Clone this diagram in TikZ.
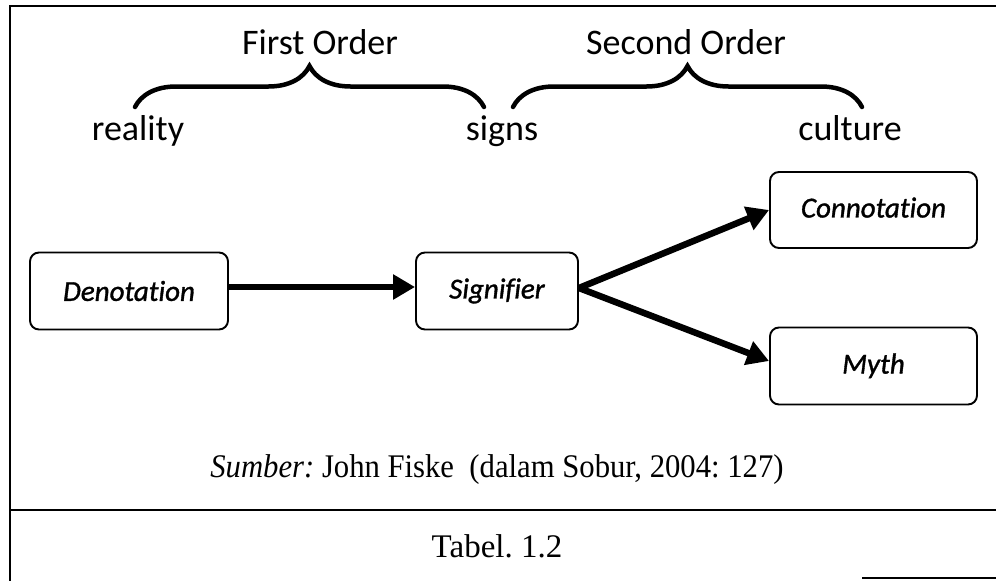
\documentclass[tikz,border=0pt]{standalone}
\usepackage{fontspec}
\setmainfont{Liberation Serif}
\setsansfont{Carlito}[Ligatures={NoCommon}]
\newfontfamily\boxfont{Carlito}[Ligatures={NoCommon},FakeBold=1.2]
\usetikzlibrary{arrows.meta,decorations.pathreplacing}
\frenchspacing
\begin{document}
\frenchspacing
\begin{tikzpicture}[x=1pt,y=-1pt,
  box/.style={draw,line width=1.9pt,rounded corners=9pt,inner sep=0pt,
    font=\boxfont\itshape\fontsize{29}{29}\selectfont},
  hdr/.style={font=\sffamily\fontsize{36}{36}\selectfont,anchor=base,inner sep=0pt},
  bigarrow/.style={line width=6.5pt,-{Triangle[length=22pt,width=24pt]}},
  bracestyle/.style={line width=4.5pt,line cap=round,decorate,decoration={brace,amplitude=41pt}},
  framestyle/.style={line width=2.4pt},
  serif/.style={font=\fontsize{33}{33}\selectfont,anchor=base,inner sep=0pt}]
\useasboundingbox (0,0) rectangle (996,581);
% frame
\draw[framestyle] (10,581) -- (10,6) -- (996,6);
\draw[framestyle] (10,510) -- (996,510);
\draw[framestyle] (862,578) -- (996,578);
% headers
\node[hdr] (fo) at (320,54) {First Order};
\node[hdr] (so) at (686,54) {Second Order};
\node[hdr] (re) at (138,140) {reality};
\node[hdr] (si) at (502,140) {signs};
\node[hdr] (cu) at (850,140) {culture};
\coordinate (b1a) at (135,107);
\coordinate (b1b) at (484,107);
\coordinate (b2a) at (513,107);
\coordinate (b2b) at (862,107);
\draw[bracestyle] (b1a) -- (b1b);
\draw[bracestyle] (b2a) -- (b2b);
% boxes
\node[box,minimum width=198pt,minimum height=77pt] (den) at (129,291) {Denotation};
\node[box,minimum width=162pt,minimum height=77pt] (sig) at (497,291) {\raisebox{2pt}{Signifier}};
\node[box,minimum width=207pt,minimum height=76pt] (con) at (873.5,210) {\raisebox{5pt}{Connotation}};
\node[box,minimum width=207pt,minimum height=77pt] (myth) at (873.5,366) {\raisebox{5pt}{Myth}};
\draw[bigarrow] ([yshift=4pt]den.east) -- ([yshift=4pt]sig.west);
\draw[bigarrow] ([yshift=3pt]sig.east) -- (con.west);
\draw[bigarrow] ([yshift=3pt]sig.east) -- ([yshift=5pt]myth.west);
% source
\node[serif] (src) at (497,477) {\scalebox{0.93}[1]{\textit{Sumber:} John Fiske\ \ (dalam Sobur, 2004: 127)}};
\node[serif] (tab) at (497,557) {Tabel. 1.2};
\end{tikzpicture}
\end{document}
